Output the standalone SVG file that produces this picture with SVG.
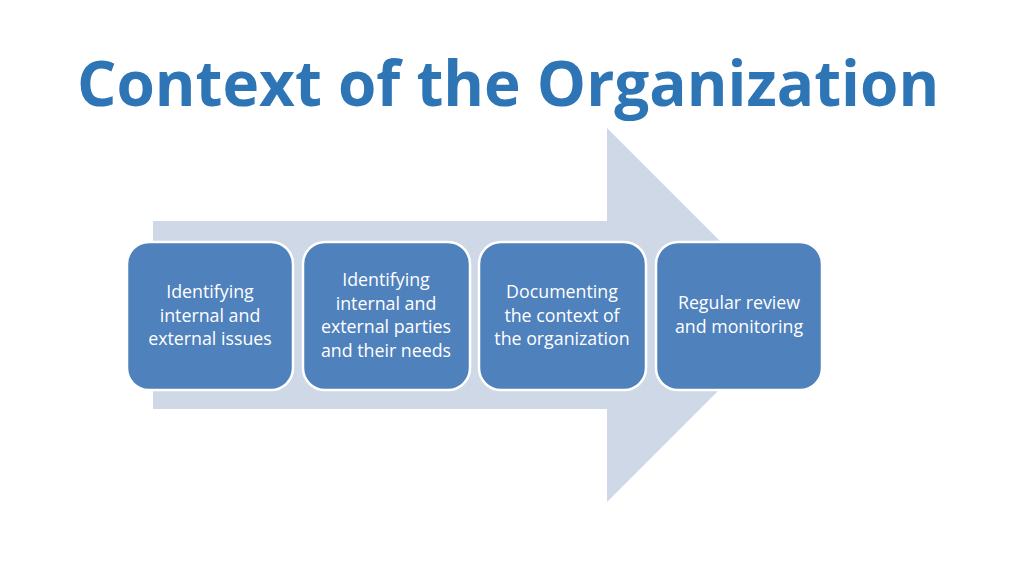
<svg xmlns="http://www.w3.org/2000/svg" width="1024" height="575" viewBox="0 0 1024 575">
<style>
.box{fill:#4F81BD;stroke:#FFFFFF;stroke-width:2.5}
.lbl{font-family:"Open Sans","Liberation Sans",sans-serif;font-size:17.8px;fill:#FFFFFF;text-anchor:middle}
.title{font-family:"Open Sans","Noto Sans",sans-serif;font-weight:bold;font-size:62px;fill:#2E75B6;text-anchor:middle}
</style>
<rect width="1024" height="575" fill="#FFFFFF"/>
<text class="title" x="508" y="106">Context of the Organization</text>
<g id="connectors">
<path d="M153,221 H607 V128 L794,315 L607,502 V409 H153 Z" fill="#CED8E7"/>
</g>
<g id="n1">
<rect class="box" x="127" y="242" width="166" height="148" rx="22"/>
<text class="lbl"><tspan x="210" y="298">Identifying</tspan><tspan x="210" y="321.5">internal and</tspan><tspan x="210" y="345">external issues</tspan></text>
</g>
<g id="n2">
<rect class="box" x="303" y="242" width="167" height="148" rx="22"/>
<text class="lbl"><tspan x="386" y="286">Identifying</tspan><tspan x="386" y="309.5">internal and</tspan><tspan x="386" y="333">external parties</tspan><tspan x="386" y="356.5">and their needs</tspan></text>
</g>
<g id="n3">
<rect class="box" x="479" y="242" width="167" height="148" rx="22"/>
<text class="lbl"><tspan x="562" y="298">Documenting</tspan><tspan x="562" y="321.5">the context of</tspan><tspan x="562" y="345">the organization</tspan></text>
</g>
<g id="n4">
<rect class="box" x="656" y="242" width="166" height="148" rx="22"/>
<text class="lbl"><tspan x="739" y="309">Regular review</tspan><tspan x="739" y="332.5">and monitoring</tspan></text>
</g>
</svg>
